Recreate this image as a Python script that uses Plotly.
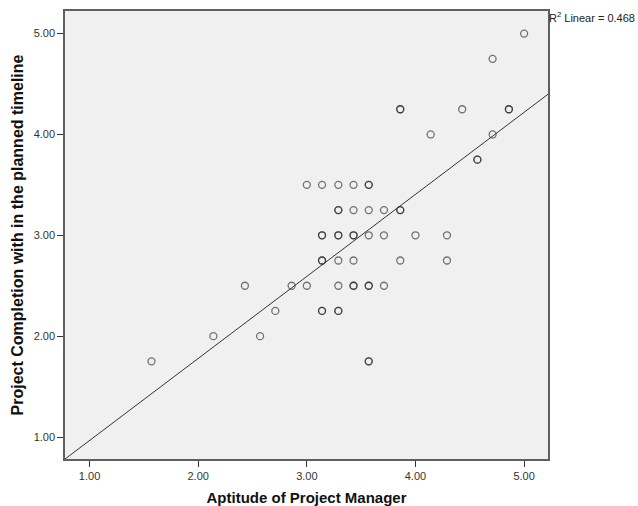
import plotly.graph_objects as go
import numpy as np

# Aptitude of Project Manager (x) and Project Completion (y); repeated pairs = overlapping cases
aptitude = [1.57, 2.14, 2.43, 2.57, 2.71, 2.86, 3.00,
            3.00, 3.14, 3.29,
            3.14, 3.14, 3.29, 3.29, 3.43, 3.43, 3.57, 3.71, 4.00, 4.29,
            3.14, 3.14, 3.29, 3.43, 3.86, 4.29,
            3.29, 3.43, 3.43, 3.57, 3.57, 3.71,
            3.14, 3.14, 3.29, 3.29,
            3.29, 3.29, 3.43, 3.57, 3.71, 3.86, 3.86,
            3.43, 3.57, 3.57,
            3.57, 3.57,
            4.57, 4.57, 4.14, 4.71,
            3.86, 3.86, 4.43, 4.86, 4.86,
            4.71, 5.00]
completion = [1.75, 2.00, 2.50, 2.00, 2.25, 2.50, 2.50,
              3.50, 3.50, 3.50,
              3.00, 3.00, 3.00, 3.00, 3.00, 3.00, 3.00, 3.00, 3.00, 3.00,
              2.75, 2.75, 2.75, 2.75, 2.75, 2.75,
              2.50, 2.50, 2.50, 2.50, 2.50, 2.50,
              2.25, 2.25, 2.25, 2.25,
              3.25, 3.25, 3.25, 3.25, 3.25, 3.25, 3.25,
              3.50, 3.50, 3.50,
              1.75, 1.75,
              3.75, 3.75, 4.00, 4.00,
              4.25, 4.25, 4.25, 4.25, 4.25,
              4.75, 5.00]

# Fit line
fit_intercept = 0.152
fit_slope = 0.8135
r2_linear = 0.468

x_range = [0.774, 5.22]
y_range = [0.782, 5.224]
ticks = [1, 2, 3, 4, 5]
tick_text = ["1.00", "2.00", "3.00", "4.00", "5.00"]

fig = go.Figure()
fig.add_trace(go.Scatter(
    x=aptitude, y=completion, mode="markers",
    marker=dict(symbol="circle-open", size=7,
                color="rgba(30,30,30,0.6)",
                line=dict(width=1.3, color="rgba(30,30,30,0.6)")),
    hoverinfo="x+y", showlegend=False, cliponaxis=False))

lx = np.array(x_range)
fig.add_trace(go.Scatter(
    x=lx, y=fit_intercept + fit_slope * lx, mode="lines",
    line=dict(color="#333333", width=1), showlegend=False, hoverinfo="skip"))

axis_common = dict(showline=True, mirror=True, linecolor="#5f5f5f", linewidth=1.5,
                   ticks="outside", ticklen=6, tickcolor="#333333", tickwidth=1,
                   showgrid=False, zeroline=False, automargin=False,
                   tickfont=dict(family="Liberation Sans, Arial", size=11, color="#333333"),
                   tickvals=ticks, ticktext=tick_text)

fig.update_layout(
    width=638, height=506,
    margin=dict(l=65, r=90, t=11, b=47),
    paper_bgcolor="white", plot_bgcolor="#f0f0f0",
    xaxis=dict(range=x_range, **axis_common, ticklabelstandoff=0,
               title=dict(text="Aptitude of Project Manager", standoff=14,
                          font=dict(family="Liberation Sans, Arial", size=15, color="#111111"))),
    yaxis=dict(range=y_range, **axis_common,
               title=dict(text="Project Completion with in the planned timeline", standoff=6,
                          font=dict(family="Liberation Sans, Arial", size=16, color="#111111"))),
    annotations=[dict(text=f"R<sup>2</sup> Linear = {r2_linear:.3f}", xref="paper", yref="paper",
                      x=1.0, y=1.0, xanchor="left", yanchor="top", showarrow=False,
                      xshift=-1, yshift=3,
                      font=dict(family="Liberation Sans, Arial", size=11, color="#222222"))],
)
fig.update_xaxes(title_font_weight="bold")
fig.update_yaxes(title_font_weight="bold")

fig.write_html("out.html")
